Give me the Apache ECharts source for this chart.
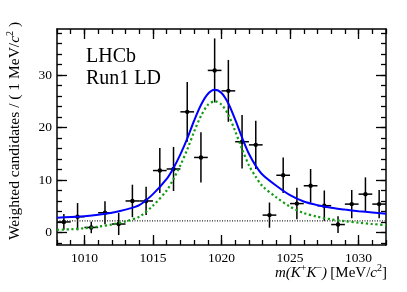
<!DOCTYPE html>
<html>
<head>
<meta charset="utf-8">
<script src="https://cdn.jsdelivr.net/npm/echarts@6/dist/echarts.min.js"></script>
<style>
html,body{margin:0;padding:0;background:#fff;}
#c{width:407px;height:292px;}
</style>
</head>
<body>
<div id="c"></div>
<script>
// ---- data ----
var binCenters = [1008.5,1009.5,1010.5,1011.5,1012.5,1013.5,1014.5,1015.5,1016.5,1017.5,1018.5,1019.5,
                  1020.5,1021.5,1022.5,1023.5,1024.5,1025.5,1026.5,1027.5,1028.5,1029.5,1030.5,1031.5];
var binValues  = [2.0,3.0,0.95,3.75,1.6,6.0,6.0,11.8,12.1,23.0,14.3,30.9,
                  27.0,17.3,16.7,3.3,10.9,5.5,8.9,5.1,1.5,5.4,7.3,5.4];
var binErrors  = [1.5,2.6,1.1,2.2,2.1,3.1,2.7,4.3,4.2,5.7,4.8,6.1,
                  5.9,5.1,4.6,2.4,3.4,3.0,3.2,2.9,1.6,2.7,3.2,2.7];
var binHalfWidth = 0.5;

var curveMass  = [1008,1009,1010,1011,1012,1013,1014,1015,1016,1016.5,1017,1017.5,1018,1018.5,1019,1019.5,
                  1020,1020.5,1021,1021.5,1022,1022.5,1023,1024,1025,1026,1027,1028,1029,1030,1031,1032];
var totalFit   = [2.8,2.95,3.1,3.35,3.75,4.35,5.2,7.3,10.2,12.3,14.9,17.9,21.3,24.3,26.4,27.2,
                  26.6,24.6,21.5,18.1,15.0,12.7,11.0,8.9,7.1,5.9,5.2,4.7,4.35,4.05,3.8,3.55];
var signalFit  = [0.5,0.6,0.8,1.1,1.5,2.1,3.0,5.1,8.0,10.2,12.8,15.8,19.2,22.2,24.3,25.0,
                  24.4,22.4,19.3,15.9,12.8,10.6,8.8,6.7,4.9,3.7,3.0,2.5,2.15,1.85,1.6,1.4];
var bkgMass    = [1008,1032];
var bkgFit     = [2.2,2.2];

var xMin = 1008, xMax = 1032, yMin = -2.4, yMax = 38.8;
var xMajor = [1010,1015,1020,1025,1030];
var xMinor = []; for (var i = 1008; i <= 1032; i++) xMinor.push(i);
var yMajor = [0,10,20,30];
var yMinor = []; for (var j = -2; j <= 38; j += 2) yMinor.push(j);

// ---- chart ----
var FONT = '"Liberation Serif","DejaVu Serif",serif';
var chart = echarts.init(document.getElementById('c'), null, {renderer:'canvas'});
function plain(v){ return String(Math.round(v)); }

function xAx(pos, ticks, len, labels, line) {
  return {
    type:'value', position:pos, min:xMin, max:xMax, offset:0,
    axisLine:{show:line, onZero:false, lineStyle:{color:'#000', width:1.5}},
    axisTick:{show:true, inside:true, length:len, customValues:ticks, lineStyle:{color:'#000', width:1.3}},
    axisLabel:{show:labels, customValues:ticks, formatter:plain, color:'#000', fontFamily:FONT, fontSize:13.5, margin:6},
    splitLine:{show:false}
  };
}
function yAx(pos, ticks, len, labels, line) {
  return {
    type:'value', position:pos, min:yMin, max:yMax, offset:0,
    axisLine:{show:line, onZero:false, lineStyle:{color:'#000', width:1.5}},
    axisTick:{show:true, inside:true, length:len, customValues:ticks, lineStyle:{color:'#000', width:1.3}},
    axisLabel:{show:labels, customValues:ticks, formatter:plain, color:'#000', fontFamily:FONT, fontSize:13.5, margin:5},
    splitLine:{show:false}
  };
}

var pts = binCenters.map(function(x, k){ return [x, binValues[k], binErrors[k]]; });
function zipXY(xs, ys){ return xs.map(function(x,k){ return [x, ys[k]]; }); }

var option = {
  animation:false,
  backgroundColor:'#fff',
  grid:{left:57, right:21, top:29, bottom:47, containLabel:false},
  xAxis:[
    xAx('bottom', xMinor, 5, false, true),
    xAx('bottom', xMajor, 10, true, false),
    xAx('top', xMinor, 5, false, true),
    xAx('top', xMajor, 10, false, false)
  ],
  yAxis:[
    yAx('left', yMinor, 5, false, true),
    yAx('left', yMajor, 10, true, false),
    yAx('right', yMinor, 5, false, true),
    yAx('right', yMajor, 10, false, false)
  ],
  series:[
    {
      type:'custom', name:'data', xAxisIndex:0, yAxisIndex:0, z:2,
      data:pts,
      renderItem:function(params, api){
        var x = api.value(0), y = api.value(1), e = api.value(2);
        var c = api.coord([x, y]);
        var top = api.coord([x, y + e]);
        var bot = api.coord([x, Math.max(y - e, yMin)]);
        var l = api.coord([x - binHalfWidth, y]);
        var r = api.coord([x + binHalfWidth, y]);
        var st = {stroke:'#000', lineWidth:1.5};
        return {type:'group', children:[
          {type:'line', shape:{x1:top[0], y1:top[1], x2:bot[0], y2:bot[1]}, style:st},
          {type:'line', shape:{x1:l[0], y1:l[1], x2:r[0], y2:r[1]}, style:st},
          {type:'circle', shape:{cx:c[0], cy:c[1], r:2.2}, style:{fill:'#000'}}
        ]};
      }
    },
    {
      type:'line', name:'bkg', data:zipXY(bkgMass, bkgFit), showSymbol:false, z:3,
      lineStyle:{color:'#222', width:1.2, type:[1,1.5]}
    },
    {
      type:'line', name:'signal', data:zipXY(curveMass, signalFit), smooth:0.3, showSymbol:false, z:4,
      lineStyle:{color:'#139c13', width:2.2, type:[2.2,2.6]}
    },
    {
      type:'line', name:'total', data:zipXY(curveMass, totalFit), smooth:0.3, showSymbol:false, z:5,
      lineStyle:{color:'#0000ff', width:2}
    }
  ],
  graphic:[
    {type:'text', left:86, top:47, style:{text:'LHCb', font:'20px '+FONT, fill:'#000'}},
    {type:'text', left:86, top:69, style:{text:'Run1 LD', font:'20px '+FONT, fill:'#000'}},
    {type:'text', x:15, y:131, rotation:Math.PI/2,
      style:{
        text:'{n|Weighted candidates / ( 1 MeV/}{i|c}{s|2}{n| )}',
        align:'center', verticalAlign:'middle',
        rich:{
          n:{fontFamily:FONT, fontSize:15.5, fill:'#000', lineHeight:19},
          i:{fontFamily:FONT, fontSize:15.5, fontStyle:'italic', fill:'#000', lineHeight:19},
          s:{fontFamily:FONT, fontSize:10, fill:'#000', lineHeight:19, verticalAlign:'top'}
        }
      }},
    {type:'text', x:387, y:273,
      style:{
        text:'{i|m(K}{s|+}{i|K}{s|\u2212}{i|)} {n|[MeV/}{i|c}{s|2}{n|]}',
        align:'right', verticalAlign:'middle',
        rich:{
          n:{fontFamily:FONT, fontSize:15, fill:'#000', lineHeight:19},
          i:{fontFamily:FONT, fontSize:15, fontStyle:'italic', fill:'#000', lineHeight:19},
          s:{fontFamily:FONT, fontSize:10, fill:'#000', lineHeight:19, verticalAlign:'top'}
        }
      }}
  ]
};
chart.setOption(option);
</script>
</body>
</html>
